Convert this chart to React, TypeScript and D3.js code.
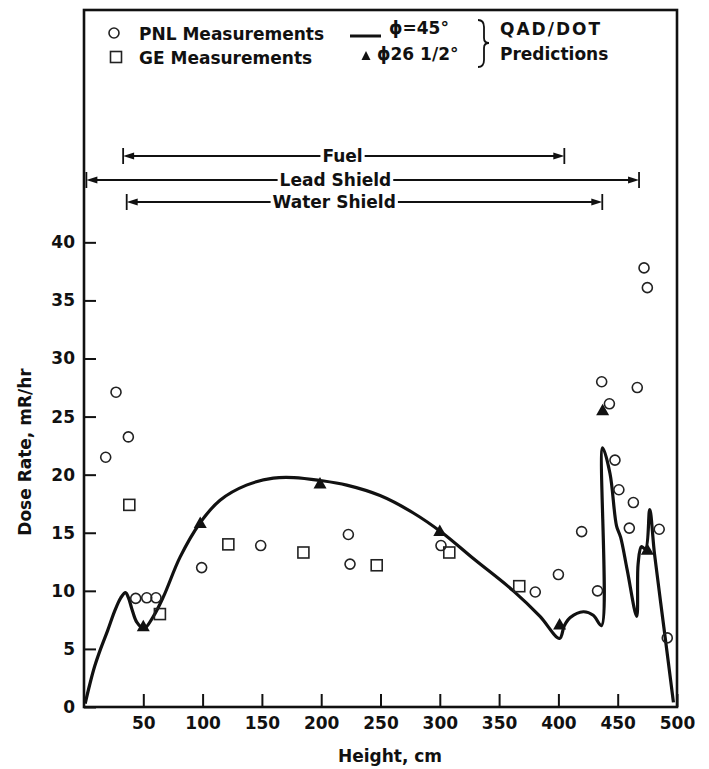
import React, { useEffect, useRef } from 'react';
import * as d3 from 'd3';

const W = 709;
const H = 769;
const FONT = '"DejaVu Sans", "Liberation Sans", sans-serif';

// PNL measurements: [height cm, dose rate mR/hr]
const pnlPoints: [number, number][] = [
  [18.3, 21.5], [27, 27.1], [37.4, 23.25], [43.6, 9.35], [52.9, 9.4], [60.7, 9.4],
  [99.2, 12.0], [149, 13.9], [222.9, 14.85], [224.3, 12.3], [301, 13.9], [380.5, 9.9],
  [400, 11.4], [419.6, 15.1], [433, 10.0], [436.5, 28.0], [443, 26.1], [447.7, 21.25],
  [451, 18.7], [459.8, 15.4], [463.2, 17.6], [466.5, 27.5], [472.2, 37.8], [475, 36.1],
  [485, 15.3], [491.8, 5.95],
];

// GE measurements
const gePoints: [number, number][] = [
  [38.2, 17.4], [64, 8.0], [121.7, 14.0], [185, 13.3], [246.8, 12.2], [308, 13.3], [367, 10.4],
];

// QAD/DOT prediction, phi = 26 1/2 deg
const phi26Points: [number, number][] = [
  [50, 6.9], [98, 15.8], [199, 19.2], [300, 15.1], [401, 7.05], [437.3, 25.5], [475, 13.5],
];

// QAD/DOT prediction, phi = 45 deg
const phi45Curve: [number, number][] = [
  [1, 0.3], [5, 2.0], [9, 3.5], [14, 5.0], [20, 6.6], [26, 8.3], [31, 9.4], [35, 9.85],
  [37.5, 9.4], [40.5, 8.4], [44.5, 7.3], [50.5, 6.75], [58.5, 7.8], [67, 9.5], [81, 12.9],
  [97.5, 15.8], [114.7, 17.8], [137, 19.1], [159.6, 19.7], [177, 19.75], [199, 19.5],
  [221.5, 19.1], [249.6, 18.2], [277.7, 16.7], [302, 15.0], [328, 12.8], [362, 10.0],
  [384.5, 7.8], [401, 5.9], [405, 7.0], [410, 7.7], [421, 8.2], [429.4, 7.9], [436.3, 7.0],
  [437.3, 22.3], [443.5, 20.1], [449, 15.6], [452.5, 14.6], [458, 11.8], [466, 7.8],
  [467.2, 12.3], [470, 13.8], [473.5, 13.6], [477, 17.0], [481, 13.2], [489, 6.8], [497, 0.4],
];

// component extents along the height axis, cm
const rangeNames = ['Fuel', 'Lead Shield', 'Water Shield'];
const rangeFrom = [33, 2, 36];
const rangeTo = [405, 468, 437];
const rangeLabelAt = [218, 212, 211];

const xTicks = [50, 100, 150, 200, 250, 300, 350, 400, 450, 500];
const yTicks = [0, 5, 10, 15, 20, 25, 30, 35, 40];

const rangeRowY = [156, 180, 202];

const DoseChart = () => {
  const svgRef = useRef<SVGSVGElement | null>(null);

  useEffect(() => {
    const svg = d3.select(svgRef.current);
    svg.selectAll('*').remove();

    const x = d3.scaleLinear().domain([0, 500]).range([84, 677]);
    const y = d3.scaleLinear().domain([0, 60]).range([707, 10]);

    svg.append('rect').attr('width', W).attr('height', H).attr('fill', '#fff');

    // frame
    svg.append('rect')
      .attr('x', x(0)).attr('y', y(60))
      .attr('width', x(500) - x(0)).attr('height', y(0) - y(60))
      .attr('fill', 'none').attr('stroke', '#111').attr('stroke-width', 2.6);

    // axes, ticks pointing inward
    const gx = svg.append('g')
      .attr('transform', `translate(0,${y(0)})`)
      .call(d3.axisBottom(x).tickValues(xTicks).tickSize(-13).tickPadding(10).tickFormat(d3.format('d')));
    gx.select('.domain').remove();
    gx.selectAll('line').attr('stroke', '#111').attr('stroke-width', 2);
    gx.selectAll('text')
      .attr('fill', '#111')
      .style('font-family', FONT).style('font-size', '17px').style('font-weight', 'bold');

    const gy = svg.append('g')
      .attr('transform', `translate(${x(0)},0)`)
      .call(d3.axisLeft(y).tickValues(yTicks).tickSize(-12).tickPadding(9).tickFormat(d3.format('d')));
    gy.select('.domain').remove();
    gy.selectAll('line').attr('stroke', '#111').attr('stroke-width', 2);
    gy.selectAll('text')
      .attr('fill', '#111')
      .style('font-family', FONT).style('font-size', '17px').style('font-weight', 'bold');

    const label = (sel) => sel
      .attr('fill', '#111')
      .style('font-family', FONT)
      .style('font-size', '17px')
      .style('font-weight', 'bold');

    svg.append('text').attr('x', 390).attr('y', 762).attr('text-anchor', 'middle')
      .call(label).text('Height, cm');
    svg.append('text').attr('transform', 'translate(31,452) rotate(-90)').attr('text-anchor', 'middle')
      .call(label).text('Dose Rate, mR/hr');

    // phi = 45 curve
    const line = d3.line<[number, number]>()
      .x(d => x(d[0]))
      .y(d => y(d[1]))
      .curve(d3.curveCatmullRom.alpha(0.5));
    svg.append('path')
      .datum(phi45Curve)
      .attr('d', line)
      .attr('fill', 'none')
      .attr('stroke', '#111')
      .attr('stroke-width', 3.2)
      .attr('stroke-linejoin', 'round');

    const triPath = 'M0,-7L6.5,4.5L-6.5,4.5Z';
    svg.append('g').selectAll('path')
      .data(phi26Points)
      .join('path')
        .attr('transform', d => `translate(${x(d[0])},${y(d[1])})`)
        .attr('d', triPath)
        .attr('fill', '#111');

    svg.append('g').selectAll('circle')
      .data(pnlPoints)
      .join('circle')
        .attr('cx', d => x(d[0]))
        .attr('cy', d => y(d[1]))
        .attr('r', 5)
        .attr('fill', 'none')
        .attr('stroke', '#222')
        .attr('stroke-width', 1.6);

    svg.append('g').selectAll('rect')
      .data(gePoints)
      .join('rect')
        .attr('x', d => x(d[0]) - 5.5)
        .attr('y', d => y(d[1]) - 5.5)
        .attr('width', 11)
        .attr('height', 11)
        .attr('fill', 'none')
        .attr('stroke', '#222')
        .attr('stroke-width', 1.6);

    // component extent arrows
    rangeNames.forEach((name, i) => {
      const yy = rangeRowY[i];
      const x1 = x(rangeFrom[i]);
      const x2 = x(rangeTo[i]);
      const g = svg.append('g');
      const t = g.append('text')
        .attr('x', x(rangeLabelAt[i])).attr('y', yy).attr('dy', '0.36em')
        .attr('text-anchor', 'middle')
        .call(label).text(name);
      const tw = (t.node() as SVGTextElement).getComputedTextLength();
      const tx = x(rangeLabelAt[i]);
      g.append('line').attr('x1', x1 + 8).attr('x2', tx - tw / 2 - 2)
        .attr('y1', yy).attr('y2', yy).attr('stroke', '#111').attr('stroke-width', 2);
      g.append('line').attr('x1', tx + tw / 2 + 2).attr('x2', x2 - 8)
        .attr('y1', yy).attr('y2', yy).attr('stroke', '#111').attr('stroke-width', 2);
      g.append('path').attr('d', `M${x1},${yy}L${x1 + 11},${yy - 3.5}L${x1 + 11},${yy + 3.5}Z`).attr('fill', '#111');
      g.append('path').attr('d', `M${x2},${yy}L${x2 - 11},${yy - 3.5}L${x2 - 11},${yy + 3.5}Z`).attr('fill', '#111');
      [x1, x2].forEach(xe => {
        g.append('line').attr('x1', xe).attr('x2', xe).attr('y1', yy - 8).attr('y2', yy + 8)
          .attr('stroke', '#111').attr('stroke-width', 1.8);
      });
    });

    // legend
    const lg = svg.append('g');
    lg.append('circle').attr('cx', 114).attr('cy', 33).attr('r', 5)
      .attr('fill', 'none').attr('stroke', '#222').attr('stroke-width', 1.6);
    lg.append('text').attr('x', 139).attr('y', 40).call(label).text('PNL Measurements');
    lg.append('rect').attr('x', 110.5).attr('y', 51.5).attr('width', 11).attr('height', 11)
      .attr('fill', 'none').attr('stroke', '#222').attr('stroke-width', 1.6);
    lg.append('text').attr('x', 139).attr('y', 64).call(label).text('GE Measurements');

    lg.append('line').attr('x1', 350).attr('x2', 381).attr('y1', 36).attr('y2', 36)
      .attr('stroke', '#111').attr('stroke-width', 3);
    lg.append('text').attr('x', 389).attr('y', 34).call(label).text('ϕ=45°');
    lg.append('path').attr('transform', 'translate(366,56)').attr('d', 'M0,-5L4.5,4L-4.5,4Z').attr('fill', '#111');
    lg.append('text').attr('x', 377).attr('y', 60).call(label).text('ϕ26 1/2°');

    lg.append('path')
      .attr('d', 'M478,20 Q484,20 484,27 L484,38 Q484,43 489,43 Q484,43 484,48 L484,60 Q484,67 478,67')
      .attr('fill', 'none').attr('stroke', '#111').attr('stroke-width', 1.8);
    lg.append('text').attr('x', 500).attr('y', 35).call(label)
      .style('letter-spacing', '2px').text('QAD/DOT');
    lg.append('text').attr('x', 500).attr('y', 60).call(label).text('Predictions');
  }, []);

  return (
    <svg
      ref={svgRef}
      width={W}
      height={H}
      style={{ position: 'absolute', left: 0, top: 0 }}
    />
  );
};

export default function App() {
  return <DoseChart />;
}
